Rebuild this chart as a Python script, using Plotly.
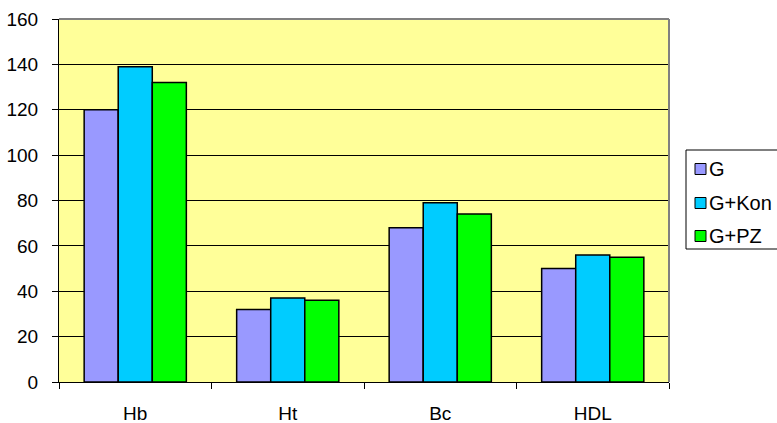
import plotly.graph_objects as go

# Measurements per parameter and group
categories = ["Hb", "Ht", "Bc", "HDL"]
series_names = ["G", "G+Kon", "G+PZ"]
values_g = [120, 32, 68, 50]
values_g_kon = [139, 37, 79, 56]
values_g_pz = [132, 36, 74, 55]
y_ticks = [0, 20, 40, 60, 80, 100, 120, 140, 160]

colors = ["#9999FF", "#00CCFF", "#00FF00"]
font_family = "Liberation Sans, Arial, sans-serif"

W, H = 777, 423
M_L, M_R, M_T, M_B = 59, 108, 19, 41
PLOT_W = W - M_L - M_R
PLOT_H = H - M_T - M_B


def px_x(px):
    """Pixel column -> paper x."""
    return (px - M_L) / PLOT_W


def px_y(py):
    """Pixel row -> paper y."""
    return (H - M_B - py) / PLOT_H


fig = go.Figure()
for i, (name, vals) in enumerate(zip(series_names, [values_g, values_g_kon, values_g_pz])):
    fig.add_trace(go.Bar(
        x=categories,
        y=vals,
        name=name,
        marker=dict(color=colors[i], line=dict(color="black", width=1.5)),
        showlegend=False,
    ))

fig.update_layout(
    width=W,
    height=H,
    margin=dict(l=M_L, r=M_R, t=M_T, b=M_B, autoexpand=False),
    paper_bgcolor="white",
    plot_bgcolor="#FFFF99",
    barmode="group",
    bargap=0.33,
    bargroupgap=0,
    font=dict(family=font_family, size=19, color="black"),
)

fig.update_xaxes(
    type="category",
    showline=True, linecolor="black", linewidth=1,
    ticks="outside", tickson="boundaries", ticklen=6, tickcolor="black",
    ticklabelstandoff=14,
    showgrid=False,
)
fig.update_yaxes(
    range=[0, 160],
    tickvals=y_ticks,
    showline=True, linecolor="black", linewidth=1,
    ticks="outside", ticklen=6, tickcolor="black",
    ticklabelstandoff=10,
    showgrid=True, gridcolor="black", gridwidth=1,
    zeroline=False,
)

# grey frame on the top and right edges of the plot area
fig.add_shape(type="line", xref="paper", yref="paper", x0=0, x1=1, y0=1, y1=1,
              line=dict(color="#808080", width=2))
fig.add_shape(type="line", xref="paper", yref="paper", x0=1, x1=1, y0=0, y1=1,
              line=dict(color="#808080", width=2))

# legend: framed box with coloured swatches, running off the right edge
fig.add_shape(type="rect", xref="paper", yref="paper",
              x0=px_x(686), x1=px_x(800), y0=px_y(249), y1=px_y(150),
              line=dict(color="black", width=1), fillcolor="white")
row_y = [169, 203, 236]
for name, color, ry in zip(series_names, colors, row_y):
    fig.add_shape(type="rect", xref="paper", yref="paper",
                  x0=px_x(695), x1=px_x(706), y0=px_y(ry + 5.5), y1=px_y(ry - 5.5),
                  line=dict(color="black", width=1), fillcolor=color)
    fig.add_annotation(xref="paper", yref="paper", x=px_x(707), y=px_y(ry),
                       text=name, showarrow=False, xanchor="left", yanchor="middle",
                       font=dict(family=font_family, size=20, color="black"))

fig.write_html("out.html")
